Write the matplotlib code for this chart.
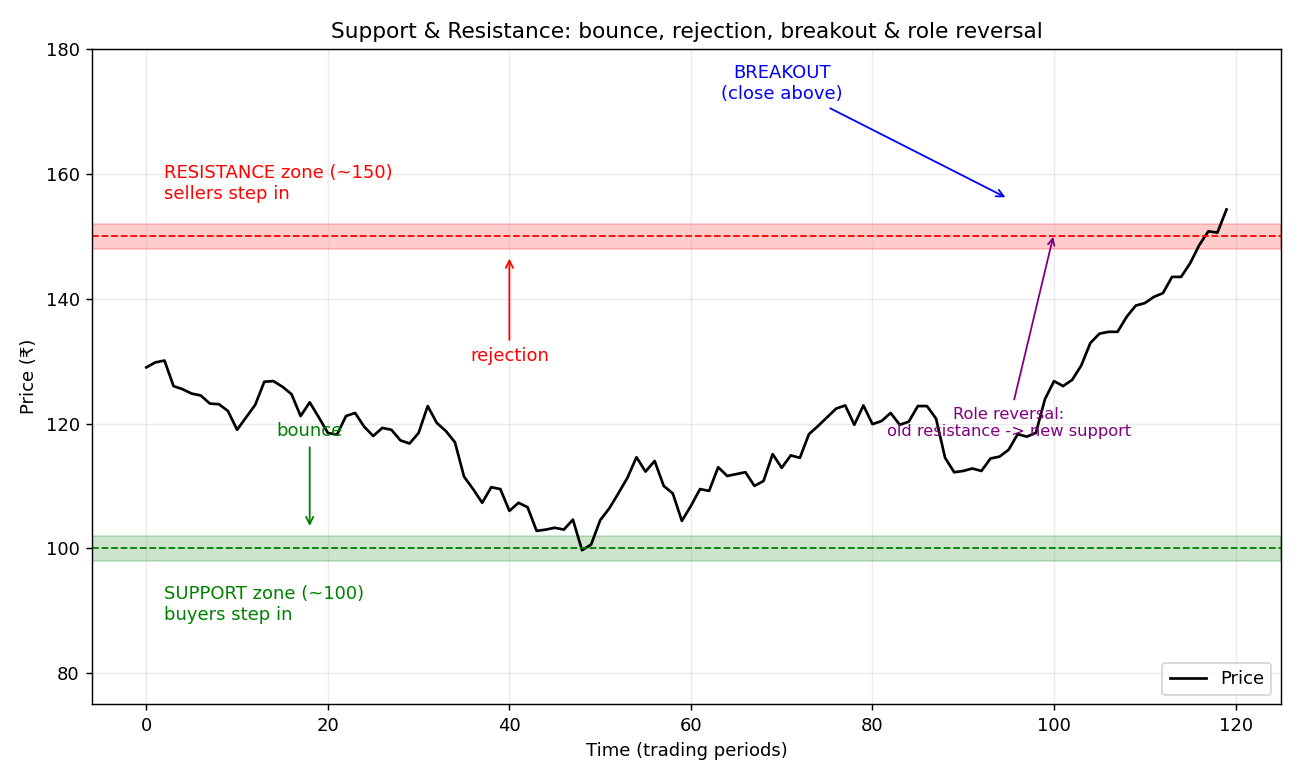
import numpy as np
import matplotlib.pyplot as plt

price = [129.0, 129.8, 130.1, 126.0, 125.5, 124.8, 124.5, 123.2, 123.1, 122.0,
         119.0, 121.0, 123.0, 126.7, 126.8, 125.9, 124.7, 121.2, 123.4, 121.0,
         118.5, 118.2, 121.2, 121.7, 119.5, 118.0, 119.3, 119.0, 117.3, 116.8,
         118.5, 122.8, 120.1, 118.8, 117.0, 111.5, 109.5, 107.3, 109.8, 109.5,
         106.0, 107.3, 106.6, 102.8, 103.0, 103.3, 103.0, 104.6, 99.7, 100.6,
         104.5, 106.4, 108.8, 111.3, 114.6, 112.3, 114.0, 110.0, 108.8, 104.4,
         106.8, 109.5, 109.2, 113.0, 111.6, 111.9, 112.2, 110.0, 110.8, 115.1,
         112.9, 114.9, 114.5, 118.3, 119.6, 121.0, 122.4, 122.9, 119.8, 122.9,
         119.9, 120.4, 121.7, 119.8, 120.3, 122.8, 122.8, 120.8, 114.5, 112.2,
         112.4, 112.8, 112.4, 114.4, 114.7, 115.8, 118.3, 117.9, 118.5, 123.9,
         126.8, 126.0, 127.0, 129.3, 132.9, 134.4, 134.7, 134.7, 137.1, 138.9,
         139.3, 140.3, 140.9, 143.5, 143.5, 145.7, 148.6, 150.8, 150.6, 154.3]
t = np.arange(len(price))

support = 100
resistance = 150
band = 2

fig, ax = plt.subplots(figsize=(10, 6), dpi=130)
ax.plot(t, price, color='black', lw=1.5, label='Price')

ax.axhspan(resistance - band, resistance + band, color='red', alpha=0.2)
ax.axhline(resistance, color='red', ls='--', lw=1)
ax.axhspan(support - band, support + band, color='green', alpha=0.2)
ax.axhline(support, color='green', ls='--', lw=1)

ax.text(2, 156, 'RESISTANCE zone (~150)\nsellers step in', color='red')
ax.text(2, 88.5, 'SUPPORT zone (~100)\nbuyers step in', color='green')

ax.annotate('rejection', xy=(40, 147), xytext=(40, 130), color='red',
            ha='center', arrowprops=dict(arrowstyle='->', color='red'))
ax.annotate('bounce', xy=(18, 103), xytext=(18, 118), color='green',
            ha='center', arrowprops=dict(arrowstyle='->', color='green'))
ax.annotate('BREAKOUT\n(close above)', xy=(95, 156), xytext=(70, 172), color='blue',
            ha='center', arrowprops=dict(arrowstyle='->', color='blue'))
ax.annotate('Role reversal:\nold resistance -> new support', xy=(100, 150.5), xytext=(95, 118),
            color='purple', fontsize=9, ha='center',
            arrowprops=dict(arrowstyle='->', color='purple'))

ax.set_ylim(75, 180)
ax.set_title('Support & Resistance: bounce, rejection, breakout & role reversal', fontsize=12)
ax.set_xlabel('Time (trading periods)')
ax.set_ylabel('Price (₹)')
ax.grid(alpha=0.25)
ax.legend(loc='lower right')
plt.subplots_adjust(left=0.071, right=0.985, top=0.937, bottom=0.097)
plt.savefig('out.png')
